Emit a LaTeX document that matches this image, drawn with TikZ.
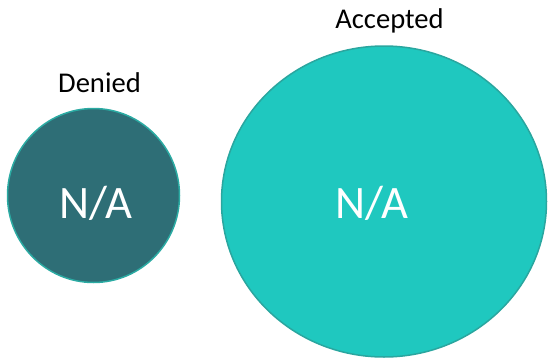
\documentclass[tikz,border=0pt]{standalone}
\usepackage{fontspec}
\setmainfont{Carlito}
\usetikzlibrary{shapes.geometric}
\definecolor{denyfill}{HTML}{2E6E76}
\definecolor{denyline}{HTML}{2BABA3}
\definecolor{acceptfill}{HTML}{1FC8BF}
\definecolor{acceptline}{HTML}{2AA69F}
\begin{document}
\begin{tikzpicture}[x={(1pt,0pt)}, y={(0pt,-1pt)}, line join=round,
  bubble/.style={ellipse, inner sep=0pt, line width=1.5pt},
  count/.style={anchor=base, text=white, font=\fontsize{46.5}{50}\selectfont},
  caption/.style={anchor=base, font=\fontsize{28.6}{30}\selectfont}]
\useasboundingbox (0,0) rectangle (549,362);
% the two groups
\node[bubble, draw=denyline, fill=denyfill, minimum width=172pt, minimum height=174pt] (denied) at (93.5,195.5) {};
\node[bubble, draw=acceptline, fill=acceptfill, minimum width=325pt, minimum height=311pt] (accepted) at (384,201.5) {};
% values
\node[count] (deniedN) at (96,218) {N/A};
\node[count] (acceptedN) at (372,218) {N/A};
% titles
\node[caption] (deniedT) at (99.5,92) {Denied};
\node[caption] (acceptedT) at (389.5,28) {Accepted};
\end{tikzpicture}
\end{document}
